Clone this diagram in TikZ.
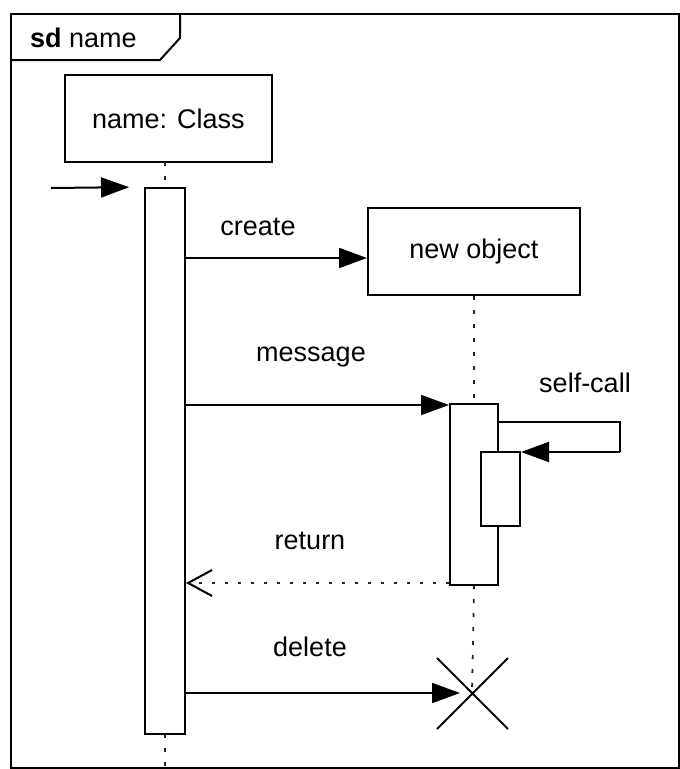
\documentclass[tikz,border=0pt]{standalone}
\usepackage{fontspec}
\setmainfont{Liberation Sans}
\usetikzlibrary{arrows.meta}
\begin{document}
\begin{tikzpicture}[x=1pt,y=-1pt,
  every node/.style={font=\fontsize{27}{31}\selectfont},
  box/.style={draw, line width=2pt, inner sep=0pt},
  bar/.style={draw, line width=2pt, fill=white, inner sep=0pt},
  lifeline/.style={line width=1.8pt, dash pattern=on 4pt off 10pt, black!85},
  msg/.style={line width=2pt, -{Triangle[length=28pt,width=20pt]}},
  ret/.style={line width=1.8pt, dash pattern=on 3pt off 10pt, black!85, -{Straight Barb[length=24pt,width=26pt,line width=2pt,color=black]}},
  lbl/.style={inner sep=0pt}]
\useasboundingbox (0,0) rectangle (680,769);
% frame
\draw[line width=2pt] (11,14) rectangle (679,768);
\draw[line width=2pt] (11,60) -- (160,60) -- (180,38) -- (180,14);
\node[lbl, anchor=west] (title) at (30,38) {\textbf{sd} name};
% coordinates of message levels
\coordinate (yfound) at (0,188);
\coordinate (ycreate) at (0,258);
\coordinate (ymsg) at (0,405);
\coordinate (yself) at (0,422);
\coordinate (yret) at (0,583);
\coordinate (found) at (51,188);
\coordinate (sc1) at (620,422);
\coordinate (sc2) at (620,452);
\coordinate (lend) at (165,769);
\coordinate (X) at (472,693);
% objects
\node[box, minimum width=207pt, minimum height=87pt] (cls) at (168.5,118.5) {name: Class};
\node[box, minimum width=212pt, minimum height=87pt] (newobj) at (474,251.5) {new object};
% lifelines
\draw[lifeline] (165,162) -- (165,188);
\draw[lifeline] (newobj.south) -- (474,404);
\draw[lifeline] (474,585) -- (X);
\draw[lifeline] (165,734) -- (lend);
% activation bars
\node[bar, minimum width=40pt, minimum height=546pt] (bar1) at (165,461) {};
\node[bar, minimum width=48pt, minimum height=181pt] (bar2) at (474,494.5) {};
\draw[line width=2pt] (bar2.east |- yself) -- (sc1) -- (sc2);
\node[bar, minimum width=39pt, minimum height=74pt] (bar3) at (500.5,489) {};
% destruction
\draw[line width=2pt] (437,658) -- (508,729) (508,658) -- (437,729);
% messages
\draw[msg, shorten >=15pt] (found) -- (bar1.north west);
\draw[msg] (bar1.east |- ycreate) -- (newobj.west |- ycreate);
\draw[msg] (bar1.east |- ymsg) -- (bar2.west |- ymsg);
\draw[msg] (sc2) -- (bar3.east |- sc2);
\draw[ret] (bar2.west |- yret) -- (bar1.east |- yret);
\draw[msg, shorten >=12pt] (bar1.east |- X) -- (X);
% labels
\node[lbl] (lcreate) at (258,227) {create};
\node[lbl] (lmsg) at (311,357) {message};
\node[lbl] (lself) at (585,383) {self-call};
\node[lbl] (lret) at (310,541) {return};
\node[lbl] (ldel) at (310,647) {delete};
\end{tikzpicture}
\end{document}
